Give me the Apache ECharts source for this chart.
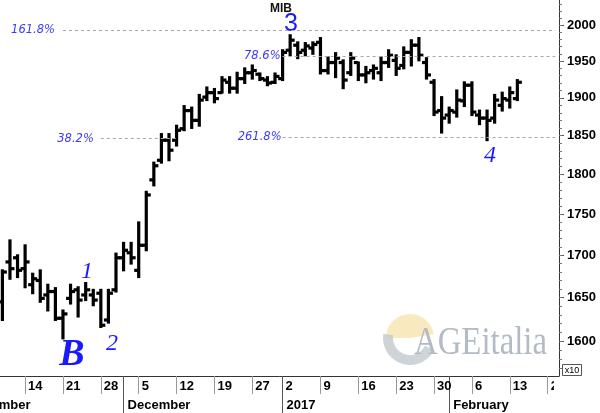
<!DOCTYPE html>
<html>
<head>
<meta charset="utf-8">
<script src="https://cdn.jsdelivr.net/npm/echarts@6/dist/echarts.min.js"></script>
<style>
  html, body { margin: 0; padding: 0; background: #fff; }
  #chart { width: 600px; height: 413px; }
</style>
</head>
<body>
<div id="chart"></div>
<script>
// trading days shown on the axis (last few are empty future slots)
const dates = [
  '2016-11-09', '2016-11-10', '2016-11-11',
  '2016-11-14', '2016-11-15', '2016-11-16', '2016-11-17', '2016-11-18',
  '2016-11-21', '2016-11-22', '2016-11-23', '2016-11-24', '2016-11-25',
  '2016-11-28', '2016-11-29', '2016-11-30', '2016-12-01', '2016-12-02',
  '2016-12-05', '2016-12-06', '2016-12-07', '2016-12-08', '2016-12-09',
  '2016-12-12', '2016-12-13', '2016-12-14', '2016-12-15', '2016-12-16',
  '2016-12-19', '2016-12-20', '2016-12-21', '2016-12-22', '2016-12-23',
  '2016-12-27', '2016-12-28', '2016-12-29', '2016-12-30',
  '2017-01-02', '2017-01-03', '2017-01-04', '2017-01-05', '2017-01-06',
  '2017-01-09', '2017-01-10', '2017-01-11', '2017-01-12', '2017-01-13',
  '2017-01-16', '2017-01-17', '2017-01-18', '2017-01-19', '2017-01-20',
  '2017-01-23', '2017-01-24', '2017-01-25', '2017-01-26', '2017-01-27',
  '2017-01-30', '2017-01-31', '2017-02-01', '2017-02-02', '2017-02-03',
  '2017-02-06', '2017-02-07', '2017-02-08', '2017-02-09', '2017-02-10',
  '2017-02-13', '2017-02-14', '2017-02-15', '2017-02-16', '2017-02-17',
  '2017-02-20', '2017-02-21'
];

// MIB (x10) daily OHLC
const opens = [
  1645, 1692, 1697, 1684, 1665, 1670, 1653, 1657, 1626, 1649, 1659, 1653, 1653, 1655, 1624, 1659,
  1697, 1703, 1682, 1712, 1793, 1818, 1844, 1844, 1859, 1883, 1870, 1901, 1907, 1907, 1921, 1913, 1926, 1934, 1932, 1924, 1921,
  1926, 1965, 1972, 1965, 1968, 1976, 1937, 1948, 1948, 1934, 1948, 1931, 1937, 1934, 1948, 1951, 1944, 1962, 1972, 1948, 1921, 1883,
  1877, 1881, 1896, 1917, 1877, 1873, 1873, 1890, 1897, 1899
];
const highs = [
  1682, 1718, 1700, 1712, 1678, 1682, 1665, 1661, 1635, 1665, 1662, 1667, 1659, 1659, 1659, 1702,
  1715, 1715, 1740, 1778, 1815, 1852, 1852, 1863, 1889, 1887, 1904, 1914, 1912, 1928, 1928, 1934, 1940, 1944, 1933, 1928, 1933,
  1965, 1986, 1976, 1975, 1976, 1982, 1955, 1961, 1951, 1961, 1948, 1942, 1944, 1955, 1965, 1958, 1969, 1979, 1982, 1954, 1924, 1901,
  1887, 1910, 1921, 1921, 1883, 1883, 1904, 1907, 1914, 1924
];
const lows = [
  1624, 1672, 1674, 1662, 1655, 1645, 1635, 1624, 1603, 1643, 1628, 1647, 1641, 1616, 1621, 1657,
  1682, 1690, 1674, 1706, 1786, 1815, 1818, 1837, 1857, 1860, 1863, 1897, 1894, 1907, 1907, 1907, 1920, 1926, 1924, 1917, 1920,
  1924, 1958, 1954, 1958, 1960, 1933, 1933, 1928, 1913, 1931, 1924, 1921, 1926, 1924, 1942, 1931, 1940, 1944, 1951, 1926, 1877, 1854,
  1867, 1875, 1889, 1877, 1865, 1844, 1867, 1883, 1887, 1897
];
const closes = [
  1680, 1684, 1682, 1692, 1672, 1649, 1657, 1626, 1631, 1657, 1647, 1659, 1647, 1618, 1655, 1697,
  1706, 1697, 1712, 1774, 1811, 1844, 1831, 1857, 1883, 1870, 1897, 1907, 1899, 1924, 1913, 1926, 1934, 1937, 1926, 1920, 1929,
  1962, 1979, 1962, 1971, 1973, 1937, 1948, 1954, 1924, 1954, 1931, 1934, 1940, 1948, 1958, 1940, 1962, 1972, 1958, 1931, 1881, 1873,
  1883, 1897, 1917, 1881, 1873, 1870, 1897, 1899, 1907, 1921
];

const priceTicks = [1600, 1650, 1700, 1750, 1800, 1850, 1900, 1950, 2000];
const priceMin = 1561;
const priceMax = 2036;

// fibonacci levels drawn by the analyst
const fibNames = ['161.8%', '78.6%', '38.2%', '261.8%'];
const fibValues = [1993, 1957, 1846, 1848];
const fibStart = ['2016-11-21', '2017-01-02', '2016-11-28', '2017-01-02'];
const fibEnd = ['2017-02-21', '2017-02-21', '2016-12-12', '2017-02-21'];
const fibGap = [8, 2, 7, 1];

const monthNames = ['January', 'February', 'March', 'April', 'May', 'June', 'July',
  'August', 'September', 'October', 'November', 'December'];

const dayObj = dates.map(d => new Date(d + 'T00:00:00Z'));
const weekStart = dayObj.map((d, i) => i > 0 && d.getUTCDay() < dayObj[i - 1].getUTCDay());
const monthStart = dayObj.map((d, i) => i > 0 && d.getUTCMonth() !== dayObj[i - 1].getUTCMonth());

const ln = Math.log;
const minorTicks = [];
for (let v = 1570; v <= 2030; v += 10) minorTicks.push(ln(v));

const ohlc = opens.map((o, i) => [i, ln(o), ln(highs[i]), ln(lows[i]), ln(closes[i])]);

const blue = '#1a1aff';
const fibBlue = '#3a3aff';

const chart = echarts.init(document.getElementById('chart'));

const option = {
  animation: false,
  backgroundColor: '#fff',
  grid: {
    left: -1.4, right: 41, top: 0, bottom: 37,
    containLabel: false, outerBoundsMode: 'none'
  },
  xAxis: [
    {
      type: 'category',
      data: dates,
      boundaryGap: true,
      position: 'bottom',
      axisLine: { show: true, lineStyle: { color: '#333', width: 1 } },
      axisTick: {
        show: true, alignWithLabel: true, length: 18,
        interval: i => weekStart[i],
        lineStyle: { color: '#999', width: 1 }
      },
      axisLabel: {
        show: true, interval: i => weekStart[i], hideOverlap: false,
        formatter: v => String(Number(v.slice(8))),
        align: 'left', padding: [0, 0, 0, 3], margin: 4,
        color: '#000', fontSize: 13, fontWeight: 'bold', fontFamily: 'Liberation Sans'
      },
      splitLine: { show: false }
    },
    {
      type: 'category',
      data: dates,
      boundaryGap: true,
      position: 'bottom',
      axisLine: { show: false },
      axisTick: {
        show: true, alignWithLabel: true, length: 37,
        interval: i => monthStart[i],
        lineStyle: { color: '#555', width: 1 }
      },
      axisLabel: {
        show: true, interval: i => monthStart[i], hideOverlap: false,
        formatter: (v, i) => {
          const d = dayObj[i];
          const prev = dayObj[i - 1];
          if (prev && prev.getUTCFullYear() !== d.getUTCFullYear()) return String(d.getUTCFullYear());
          return monthNames[d.getUTCMonth()];
        },
        align: 'left', padding: [0, 0, 0, 4], margin: 23,
        color: '#000', fontSize: 13, fontWeight: 'bold', fontFamily: 'Liberation Sans'
      },
      splitLine: { show: false }
    }
  ],
  yAxis: [
    {
      type: 'value',
      position: 'right',
      min: ln(priceMin),
      max: ln(priceMax),
      axisLine: { show: true, lineStyle: { color: '#333', width: 1 } },
      axisTick: {
        show: true, length: 5, customValues: priceTicks.map(ln),
        lineStyle: { color: '#555' }
      },
      axisLabel: {
        show: true, customValues: priceTicks.map(ln),
        formatter: v => String(Math.round(Math.exp(v))),
        margin: 8, color: '#000', fontSize: 13, fontWeight: 'bold', fontFamily: 'Liberation Sans'
      },
      splitLine: { show: false }
    },
    {
      type: 'value',
      position: 'right',
      min: ln(priceMin),
      max: ln(priceMax),
      axisLine: { show: false },
      axisTick: {
        show: true, length: 3, customValues: minorTicks,
        lineStyle: { color: '#777' }
      },
      axisLabel: { show: false },
      splitLine: { show: false }
    }
  ],
  series: [
    {
      type: 'custom',
      name: 'MIB',
      xAxisIndex: 0,
      yAxisIndex: 0,
      data: ohlc,
      encode: { x: 0, y: [1, 2, 3, 4] },
      renderItem: (params, api) => {
        const x = api.value(0);
        const o = api.coord([x, api.value(1)]);
        const h = api.coord([x, api.value(2)]);
        const l = api.coord([x, api.value(3)]);
        const c = api.coord([x, api.value(4)]);
        const style = { stroke: '#000', lineWidth: 3.2, fill: null };
        return {
          type: 'group',
          children: [
            { type: 'line', shape: { x1: h[0], y1: h[1] - 1, x2: l[0], y2: l[1] + 1 }, style },
            { type: 'line', shape: { x1: o[0] - 4.5, y1: o[1], x2: o[0], y2: o[1] }, style },
            { type: 'line', shape: { x1: c[0], y1: c[1], x2: c[0] + 4.5, y2: c[1] }, style }
          ]
        };
      }
    },
    {
      type: 'line',
      data: [],
      silent: true,
      markLine: {
        silent: true,
        symbol: 'none',
        lineStyle: { color: '#a8a8a8', type: [3, 3], width: 1 },
        data: fibValues.map((v, i) => [
          {
            coord: [fibStart[i], ln(v)],
            label: {
              show: true, position: 'start', distance: fibGap[i], formatter: fibNames[i],
              color: fibBlue, fontSize: 11.5, fontStyle: 'italic', fontFamily: 'DejaVu Sans'
            }
          },
          { coord: [fibEnd[i], ln(v)] }
        ])
      }
    }
  ],
  graphic: [
    // watermark
    {
      type: 'group', silent: true, z: -1,
      children: [
        { type: 'sector', shape: { cx: 410, cy: 338, r: 24, r0: 0, startAngle: -Math.PI, endAngle: -Math.PI * 0.05 },
          style: { fill: '#f6e2a8', opacity: 0.75 } },
        { type: 'sector', shape: { cx: 410, cy: 338, r: 27, r0: 17, startAngle: Math.PI * 0.15, endAngle: Math.PI * 1.05 },
          style: { fill: '#c3c9cf', opacity: 0.8 } },
        { type: 'text', x: 414, y: 363, scaleX: 0.82,
          style: { text: 'AGEitalia', font: '40px "Liberation Serif"', fill: '#b3bbc5', textVerticalAlign: 'bottom' } }
      ]
    },
    { type: 'text', x: 281, y: 9, silent: true,
      style: { text: 'MIB', font: 'bold 12px "Liberation Sans"', fill: '#111', textAlign: 'center', textVerticalAlign: 'middle' } },
    { type: 'text', x: 72, y: 355, silent: true,
      style: { text: 'B', font: 'italic bold 38px "Liberation Serif"', fill: blue, textAlign: 'center', textVerticalAlign: 'middle' } },
    { type: 'text', x: 87, y: 272, silent: true,
      style: { text: '1', font: 'italic 24px "Liberation Serif"', fill: blue, textAlign: 'center', textVerticalAlign: 'middle' } },
    { type: 'text', x: 112, y: 344, silent: true,
      style: { text: '2', font: 'italic 24px "Liberation Serif"', fill: blue, textAlign: 'center', textVerticalAlign: 'middle' } },
    { type: 'text', x: 291, y: 24, silent: true,
      style: { text: '3', font: '25px "Liberation Sans"', fill: blue, textAlign: 'center', textVerticalAlign: 'middle' } },
    { type: 'text', x: 490, y: 156, silent: true,
      style: { text: '4', font: 'italic 24px "Liberation Serif"', fill: blue, textAlign: 'center', textVerticalAlign: 'middle' } },
    // month fragment running off the left edge
    { type: 'text', x: -33, y: 405, silent: true,
      style: { text: 'November', font: 'bold 13px "Liberation Sans"', fill: '#000', textVerticalAlign: 'middle' } },
    // the date strip stops at the price axis
    { type: 'rect', shape: { x: 554, y: 377, width: 46, height: 36 }, silent: true, z: 100,
      style: { fill: '#fff' } },
    // scale note
    { type: 'rect', shape: { x: 562.5, y: 364.5, width: 19, height: 11 }, silent: true,
      style: { fill: '#fff', stroke: '#555', lineWidth: 1 } },
    { type: 'text', x: 572, y: 370.5, silent: true,
      style: { text: 'x10', font: '9px "Liberation Sans"', fill: '#000', textAlign: 'center', textVerticalAlign: 'middle' } }
  ]
};

chart.setOption(option);
</script>
</body>
</html>
